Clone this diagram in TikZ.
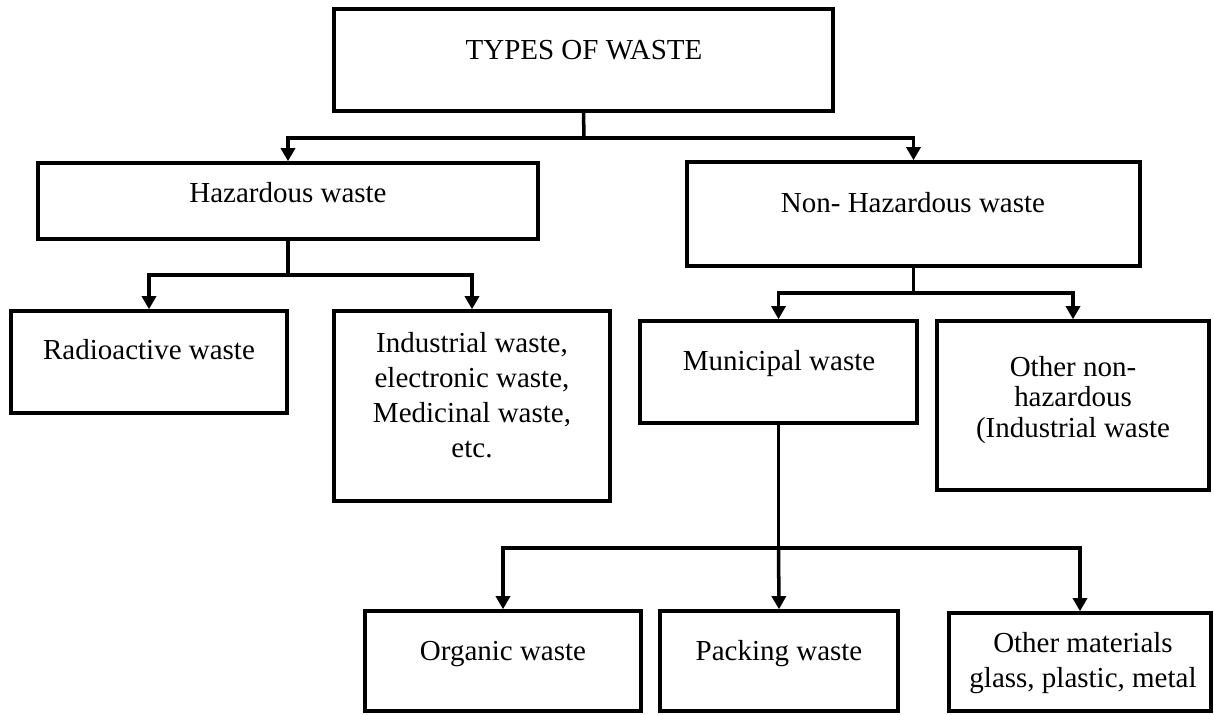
\documentclass[tikz,border=0pt]{standalone}
\usepackage{fontspec}
\setmainfont{Liberation Serif}
\usetikzlibrary{arrows.meta}
\tikzset{
  box/.style={draw, line width=2pt, inner sep=0pt},
  txt/.style={inner sep=0pt, font=\fontsize{16.5}{19.8}\selectfont, align=center},
  oneline/.style={text height=11.2pt, text depth=3.6pt},
}
\begin{document}
\begin{tikzpicture}[x=0.02cm, y=-0.02cm, line width=2pt, >={Triangle[width=8pt,length=7.5pt]}]
  \useasboundingbox (0,0) rectangle (1214,714);

  % Boxes
  \node[box, minimum width=9.98cm, minimum height=2.04cm] (types) at (583.5,60) {};
  \node[box, minimum width=10cm, minimum height=1.52cm] (haz) at (288,201) {};
  \node[box, minimum width=9.06cm, minimum height=2.08cm] (nonhaz) at (913.5,214) {};
  \node[box, minimum width=5.52cm, minimum height=2.04cm] (radio) at (149,362) {};
  \node[box, minimum width=5.52cm, minimum height=3.8cm] (indus) at (472,406) {};
  \node[box, minimum width=5.54cm, minimum height=2.04cm] (munic) at (778.5,372) {};
  \node[box, minimum width=5.44cm, minimum height=3.38cm] (othernh) at (1073,405.5) {};
  \node[box, minimum width=5.52cm, minimum height=2cm] (organic) at (503,661) {};
  \node[box, minimum width=4.76cm, minimum height=2cm] (packing) at (779,661) {};
  \node[box, minimum width=5.24cm, minimum height=1.96cm] (othermat) at (1080,662) {};

  % Texts
  \node[txt, oneline] (typesT) at (584,52.5) {TYPES OF WASTE};
  \node[txt, oneline] (hazT) at (288,195.5) {Hazardous waste};
  \node[txt, oneline] (nonhazT) at (913,205.5) {Non- Hazardous waste};
  \node[txt, oneline] (radioT) at (149,352.5) {Radioactive waste};
  \node[txt] (indusT) at (472,395) {Industrial waste,\\electronic waste,\\Medicinal waste,\\etc.};
  \node[txt, oneline] (municT) at (779,363.5) {Municipal waste};
  \node[txt, font=\fontsize{16.5}{17.3}\selectfont] (othernhT) at (1073,400) {Other non-\\hazardous\\(Industrial waste};
  \node[txt, oneline] (organicT) at (503,653.5) {Organic waste};
  \node[txt, oneline] (packingT) at (779,653.5) {Packing waste};
  \node[txt] (othermatT) at (1083,663) {Other materials\\glass, plastic, metal};

  % Branch points
  \coordinate (j1) at (584,138);
  \coordinate (j2) at (288,275);
  \coordinate (j3) at (913.5,293);
  \coordinate (j4) at (778.5,548);

  % Lines going down
  \draw (types.south) -- (j1);
  \draw[->] (j1) -| (haz.north);
  \draw[->] (j1) -| (nonhaz.north);

  \draw (haz.south) -- (j2);
  \draw[->] (j2) -| (radio.north);
  \draw[->] (j2) -| (indus.north);

  \draw (nonhaz.south) -- (j3);
  \draw[->] (j3) -| (munic.north);
  \draw[->] (j3) -| (othernh.north);

  % Lines going to municipal parts
  \draw (munic.south) -- (j4);
  \draw[->] (j4) -| (organic.north);
  \draw[->] (j4) -- (packing.north);
  \draw[->] (j4) -| (othermat.north);

\end{tikzpicture}
\end{document}
